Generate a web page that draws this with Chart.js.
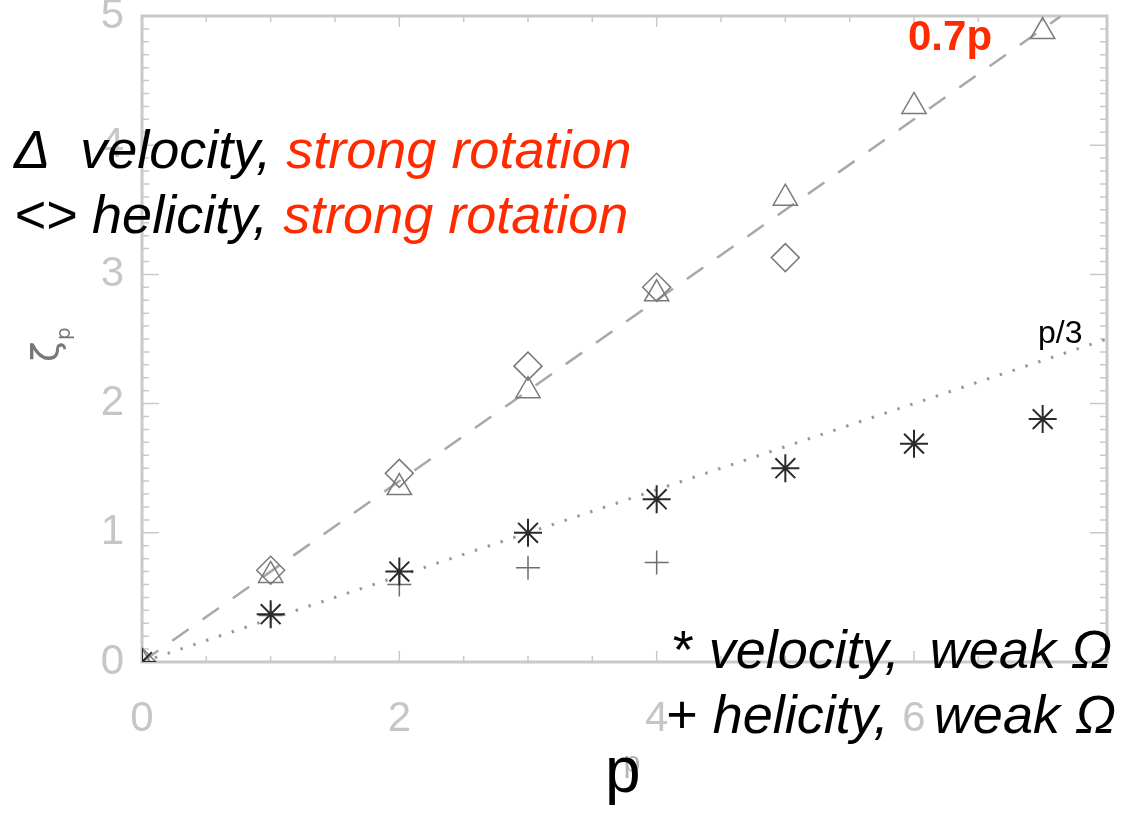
<!DOCTYPE html>
<html>
<head>
<meta charset="utf-8">
<title>Structure function exponents</title>
<script src="https://cdn.jsdelivr.net/npm/chart.js@4.4.1/dist/chart.umd.min.js"></script>
<style>
  html, body { margin: 0; padding: 0; background: #fff; }
  #wrap { width: 1142px; height: 815px; position: relative; }
</style>
</head>
<body>
<div id="wrap"><canvas id="chart"></canvas></div>
<script>
// order p of the structure function
const pValues = [0, 1, 2, 3, 4, 5, 6, 7];
// triangles: velocity, strong rotation
const velStrong = [0, 0.67, 1.35, 2.10, 2.85, 3.59, 4.30, 4.88];
// diamonds: helicity, strong rotation (p = 0..5)
const helStrong = [0, 0.71, 1.46, 2.29, 2.90, 3.13];
// asterisks: velocity, weak rotation
const velWeak = [0, 0.37, 0.70, 1.00, 1.26, 1.50, 1.69, 1.88];
// plus signs: helicity, weak rotation (p = 0..4)
const helWeak = [0, 0.36, 0.60, 0.73, 0.77];

// reference lines 0.7p and p/3
const lineP = [0, 7.14, 7.5];
const slopeStrong = 0.7;
const slopeWeak = 1 / 3;

const xTicks = [0, 2, 4, 6];
const yTicks = [0, 1, 2, 3, 4, 5];

const pts = (ys) => ys.map((y, i) => ({ x: pValues[i], y: y }));
const linePts = (k, pmax) => lineP.filter(p => p <= pmax).map(p => ({ x: p, y: k * p }));

const GRAY = '#c9c9c9';
const RED = '#ff2a00';

// IDL-style frame with inward ticks on all four sides
const idlFrame = {
  id: 'idlFrame',
  beforeDatasetsDraw(chart) {
    const { ctx, chartArea: a, scales: { x, y } } = chart;
    ctx.save();
    ctx.strokeStyle = GRAY;
    ctx.lineWidth = 3;
    ctx.strokeRect(a.left, a.top, a.right - a.left, a.bottom - a.top);
    ctx.lineWidth = 1.5;
    ctx.beginPath();
    for (let v = 0.5; v < 7.5; v += 0.5) {
      const px = x.getPixelForValue(v);
      const len = (v % 2 === 0) ? 11 : 6;
      ctx.moveTo(px, a.bottom); ctx.lineTo(px, a.bottom - len);
      ctx.moveTo(px, a.top); ctx.lineTo(px, a.top + len);
    }
    for (let i = 1; i < 50; i++) {
      const v = i / 10;
      const py = y.getPixelForValue(v);
      const len = (i % 10 === 0) ? 17 : 7;
      ctx.moveTo(a.left, py); ctx.lineTo(a.left + len, py);
      ctx.moveTo(a.right, py); ctx.lineTo(a.right - len, py);
    }
    ctx.stroke();

    // faint IDL axis titles
    ctx.fillStyle = '#b5b5b5';
    ctx.font = '30px "Liberation Sans"';
    ctx.textAlign = 'center';
    ctx.textBaseline = 'alphabetic';
    ctx.fillText('p', 632, 772);
    ctx.translate(58, 352);
    ctx.rotate(-Math.PI / 2);
    ctx.fillStyle = '#777';
    ctx.font = '38px "DejaVu Sans"';
    ctx.textAlign = 'left';
    ctx.fillText('\u03b6', -10, 0);
    ctx.font = '20px "DejaVu Sans"';
    ctx.fillText('p', 12, 12);
    ctx.restore();
  }
};

// overlaid annotation text
function runs(ctx, x, yb, parts) {
  let cx = x;
  for (const [txt, font, color] of parts) {
    ctx.font = font;
    ctx.fillStyle = color;
    ctx.fillText(txt, cx, yb);
    cx += ctx.measureText(txt).width;
  }
  return cx - x;
}
function runsRight(ctx, xr, yb, parts) {
  let w = 0;
  for (const [txt, font] of parts) { ctx.font = font; w += ctx.measureText(txt).width; }
  runs(ctx, xr - w, yb, parts);
}

const overlayText = {
  id: 'overlayText',
  afterDraw(chart) {
    const ctx = chart.ctx;
    ctx.save();
    ctx.textAlign = 'left';
    ctx.textBaseline = 'alphabetic';
    const it = 'italic 54px "Liberation Sans"';
    const up = '54px "Liberation Sans"';
    runs(ctx, 14, 168, [['\u0394  velocity, ', it, '#000'], ['strong rotation', it, RED]]);
    runs(ctx, 14, 233, [['<> helicity, ', it, '#000'], ['strong rotation', it, RED]]);
    runsRight(ctx, 1112, 668, [['* ', up, '#000'], ['velocity,  weak \u03a9', it, '#000']]);
    runsRight(ctx, 1116, 733, [['+ ', up, '#000'], ['helicity,   weak \u03a9', it, '#000']]);

    ctx.font = 'bold 42px "Liberation Sans"';
    ctx.fillStyle = RED;
    ctx.fillText('0.7p', 908, 50);
    ctx.font = '32px "Liberation Sans"';
    ctx.fillStyle = '#000';
    ctx.fillText('p/3', 1038, 343);
    ctx.font = '64px "Liberation Sans"';
    ctx.fillText('p', 605, 792);
    ctx.restore();
  }
};

new Chart(document.getElementById('chart'), {
  type: 'scatter',
  data: {
    datasets: [
      {
        label: 'velocity, weak',
        data: pts(velWeak),
        pointStyle: 'star',
        pointRadius: 14,
        borderColor: '#2b2b2b',
        backgroundColor: '#2b2b2b',
        pointBorderWidth: 2,
        showLine: false,
      },
      {
        label: 'helicity, weak',
        data: pts(helWeak),
        pointStyle: 'cross',
        pointRadius: 12,
        borderColor: '#6e6e6e',
        pointBorderWidth: 1.5,
        showLine: false,
      },
      {
        label: 'helicity, strong',
        data: pts(helStrong),
        pointStyle: 'rectRot',
        pointRadius: 14,
        borderColor: '#7a7a7a',
        backgroundColor: 'rgba(0,0,0,0)',
        pointBorderWidth: 1.5,
        showLine: false,
      },
      {
        label: 'velocity, strong',
        data: pts(velStrong),
        pointStyle: 'triangle',
        pointRadius: 14,
        borderColor: '#7a7a7a',
        backgroundColor: 'rgba(0,0,0,0)',
        pointBorderWidth: 1.5,
        showLine: false,
      },
      {
        label: '0.7p',
        data: linePts(slopeStrong, 7.14),
        showLine: true,
        pointRadius: 0,
        borderColor: '#a8a8a8',
        borderWidth: 2.5,
        borderDash: [20, 17],
      },
      {
        label: 'p/3',
        data: linePts(slopeWeak, 7.5),
        showLine: true,
        pointRadius: 0,
        borderColor: '#999',
        borderWidth: 3,
        borderDash: [2.5, 11],
      },
    ],
  },
  options: {
    responsive: true,
    maintainAspectRatio: false,
    animation: false,
    layout: { padding: { top: 13, right: 35, left: 0, bottom: 0 } },
    plugins: { legend: { display: false }, tooltip: { enabled: false } },
    scales: {
      x: {
        type: 'linear',
        min: 0,
        max: 7.5,
        afterBuildTicks: (s) => { s.ticks = xTicks.map(v => ({ value: v })); },
        afterFit: (s) => { s.height = 153; s.paddingLeft = 0; s.paddingRight = 0; },
        grid: { display: false, drawTicks: false },
        border: { display: false },
        ticks: {
          padding: 32,
          color: '#c6c6c6',
          font: { family: '"Liberation Sans Narrow", "Liberation Sans"', size: 42 },
          maxRotation: 0,
        },
      },
      y: {
        type: 'linear',
        min: 0,
        max: 5,
        afterBuildTicks: (s) => { s.ticks = yTicks.map(v => ({ value: v })); },
        afterFit: (s) => { s.width = 142; s.paddingTop = 0; s.paddingBottom = 0; },
        grid: { display: false, drawTicks: false },
        border: { display: false },
        ticks: {
          padding: 18,
          color: '#c6c6c6',
          font: { family: '"Liberation Sans Narrow", "Liberation Sans"', size: 42 },
        },
      },
    },
  },
  plugins: [idlFrame, overlayText],
});
</script>
</body>
</html>
